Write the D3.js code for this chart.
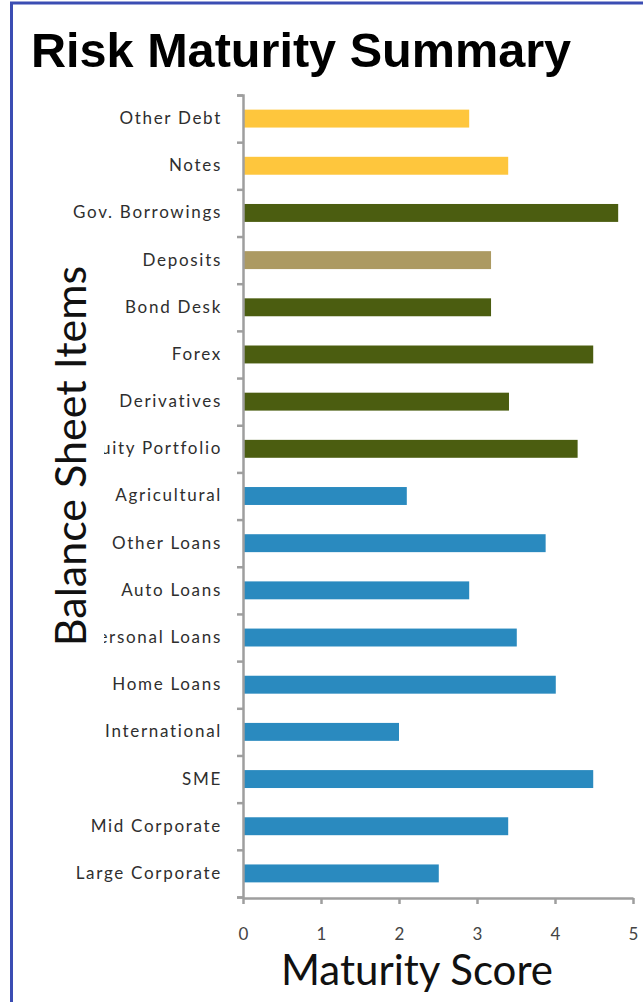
<!DOCTYPE html>
<html>
<head>
<meta charset="utf-8">
<script src="https://cdn.jsdelivr.net/npm/d3@7"></script>
<style>
  body { margin: 0; background: #fff; }
  .bar-label { font-family: Lato, "Open Sans", sans-serif; font-size: 17px; letter-spacing: 1.7px; fill: #2e2e2e; }
  .x-axis text { font-family: Lato, "Open Sans", sans-serif; font-size: 17px; fill: #444; }
  .axis-title { font-family: Lato, "Open Sans", sans-serif; font-size: 43px; fill: #111; }
  .x-title { font-size: 42px; }
  .chart-title { font-family: "Liberation Sans", Arial, sans-serif; font-weight: bold; font-size: 48.6px; fill: #000; }
</style>
</head>
<body>
<div id="chart"></div>
<script>
// balance sheet items, top to bottom
const categories = ["Other Debt", "Notes", "Gov. Borrowings", "Deposits", "Bond Desk", "Forex",
    "Derivatives", "Equity Portfolio", "Agricultural", "Other Loans", "Auto Loans", "Personal Loans",
    "Home Loans", "International", "SME", "Mid Corporate", "Large Corporate"];
const scores = [2.9, 3.4, 4.81, 3.18, 3.18, 4.49, 3.41, 4.29, 2.1, 3.88, 2.9, 3.51, 4.01, 2.0, 4.49, 3.4, 2.51];
const groups = ["debt", "debt", "markets", "deposits", "markets", "markets", "markets", "markets",
    "loans", "loans", "loans", "loans", "loans", "loans", "loans", "loans", "loans"];
const xTicks = [0, 1, 2, 3, 4, 5];

const data = categories.map((c, i) => ({name: c, score: scores[i], group: groups[i]}));

const W = 643, H = 1002;
const margin = {top: 95, right: 10, bottom: 105, left: 243};
const width = 390, height = 802;

const svg = d3.select("#chart").append("svg")
    .attr("width", W).attr("height", H);

// frame
svg.append("line").attr("x1", 10).attr("x2", W).attr("y1", 3).attr("y2", 3)
    .attr("stroke", "#3b4db3").attr("stroke-width", 3);
svg.append("line").attr("x1", 11.5).attr("x2", 11.5).attr("y1", 2).attr("y2", H)
    .attr("stroke", "#3b4db3").attr("stroke-width", 3);

svg.append("text").attr("class", "chart-title")
    .attr("x", 31).attr("y", 67)
    .text("Risk Maturity Summary");

const g = svg.append("g").attr("transform", `translate(${margin.left},${margin.top})`);

const x = d3.scaleLinear().domain([0, 5]).range([0, width]);
const y = d3.scaleBand().domain(categories).range([0, height])
    .paddingInner(0.62).paddingOuter(0.31);
const color = d3.scaleOrdinal()
    .domain(["debt", "markets", "deposits", "loans"])
    .range(["#fec63d", "#4b5d10", "#ac9a62", "#2a8abf"]);

// bars
g.selectAll(".bar").data(data).enter().append("rect")
    .attr("class", "bar")
    .attr("x", 0)
    .attr("y", d => y(d.name))
    .attr("height", y.bandwidth())
    .attr("width", d => x(d.score))
    .attr("fill", d => color(d.group));

// category labels
g.append("g").attr("class", "y-labels")
    .call(d3.axisLeft(y).tickSize(0).tickPadding(21))
    .call(s => s.select(".domain").remove())
    .call(s => s.attr("font-family", null).attr("font-size", null))
    .selectAll("text").attr("class", "bar-label");

// tick marks between categories
const yIdx = d3.scaleLinear().domain([0, categories.length]).range([0, height]);
g.append("g").attr("class", "y-axis")
    .call(d3.axisLeft(yIdx).tickValues(d3.range(categories.length + 1)).tickSize(6).tickFormat(""))
    .call(s => s.selectAll("line, path").attr("stroke", "#9e9e9e").attr("stroke-width", 2.5));

// x axis
g.append("g").attr("class", "x-axis")
    .attr("transform", `translate(0,${height + 1})`)
    .call(d3.axisBottom(x).tickValues(xTicks).tickFormat(d3.format("d"))
        .tickSize(6).tickPadding(24).tickSizeOuter(0))
    .call(s => s.selectAll("line, path").attr("stroke", "#9e9e9e").attr("stroke-width", 2.5))
    .call(s => s.attr("font-family", null).attr("font-size", null));

// title box for y axis title hides part of the labels
svg.append("rect").attr("x", 44).attr("y", 255).attr("width", 60).attr("height", 405)
    .attr("fill", "#fff");
svg.append("text").attr("class", "axis-title")
    .attr("transform", "translate(86,456) rotate(-90)")
    .attr("text-anchor", "middle")
    .text("Balance Sheet Items");

svg.append("text").attr("class", "axis-title x-title")
    .attr("x", 417).attr("y", 985)
    .attr("text-anchor", "middle")
    .text("Maturity Score");
</script>
</body>
</html>
